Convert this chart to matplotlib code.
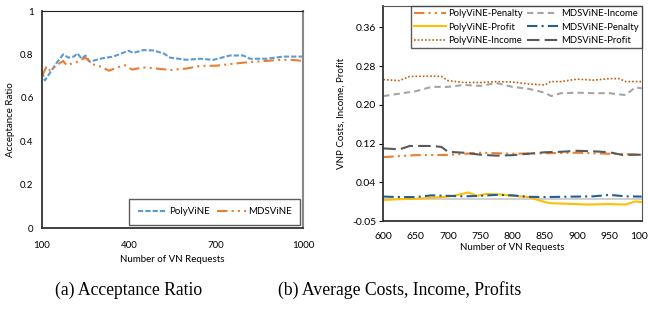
import matplotlib.pyplot as plt

# (a) acceptance ratio
poly_x = [100, 110, 130, 150, 173, 191, 210, 222, 237, 250, 265, 300, 346, 398,
          415, 449, 484, 519, 542, 599, 645, 691, 748, 794, 817, 875, 932, 1000]
poly_y = [0.72, 0.68, 0.72, 0.76, 0.80, 0.785, 0.79, 0.805, 0.78, 0.795, 0.766, 0.78,
          0.79, 0.817, 0.807, 0.82, 0.818, 0.805, 0.785, 0.775, 0.78, 0.775, 0.795,
          0.795, 0.78, 0.78, 0.79, 0.79]
mds_x = [100, 116, 128, 150, 173, 185, 220, 250, 273, 300, 331, 360, 387, 410, 449,
         495, 541, 599, 645, 702, 759, 817, 875, 920, 960, 1000]
mds_y = [0.70, 0.745, 0.725, 0.75, 0.77, 0.75, 0.765, 0.785, 0.755, 0.745, 0.725,
         0.74, 0.75, 0.73, 0.74, 0.735, 0.728, 0.735, 0.747, 0.748, 0.757, 0.765,
         0.77, 0.775, 0.775, 0.77]

# (b) costs, income, profit
x25 = [600, 625, 650, 675, 700, 725, 750, 775, 800, 825, 850, 875, 900, 925, 950, 975, 1000]
poly_income_x = [600, 625, 641, 675, 690, 700, 725, 750, 775, 800, 825, 850, 859,
                 875, 900, 925, 950, 965, 975, 1000]
poly_income = [0.247, 0.245, 0.2536, 0.254, 0.2536, 0.245, 0.241, 0.241, 0.243, 0.242,
               0.238, 0.236, 0.243, 0.243, 0.248, 0.246, 0.249, 0.249, 0.243, 0.243]
mds_income_x = [600, 625, 650, 675, 700, 725, 750, 775, 800, 825, 850, 860, 875,
                900, 925, 950, 975, 990, 1000]
mds_income = [0.213, 0.218, 0.223, 0.232, 0.232, 0.236, 0.234, 0.240, 0.232, 0.228,
              0.220, 0.213, 0.219, 0.220, 0.219, 0.219, 0.215, 0.231, 0.229]
mds_profit_x = [600, 625, 641, 675, 690, 700, 725, 750, 775, 800, 825, 850, 875,
                900, 925, 950, 970, 1000]
mds_profit = [0.105, 0.103, 0.110, 0.110, 0.108, 0.098, 0.096, 0.092, 0.090, 0.091,
              0.094, 0.097, 0.098, 0.100, 0.099, 0.097, 0.0915, 0.092]
poly_penalty_x = [600, 625, 650, 700, 750, 800, 850, 900, 950, 1000]
poly_penalty = [0.087, 0.089, 0.091, 0.0915, 0.096, 0.094, 0.095, 0.096, 0.094, 0.092]
mds_penalty = [0.0055, 0.0045, 0.0045, 0.008, 0.007, 0.006, 0.007, 0.009, 0.008,
               0.005, 0.0045, 0.005, 0.0055, 0.006, 0.009, 0.006, 0.0055]
poly_profit_x = [600, 625, 650, 675, 700, 715, 732, 745, 760, 785, 800, 825, 840,
                 857, 875, 900, 915, 950, 975, 990, 1000]
poly_profit = [-0.0015, 0.0, 0.001, 0.003, 0.0055, 0.009, 0.014, 0.007, 0.011, 0.0095,
               0.007, 0.0045, -0.002, -0.008, -0.009, -0.010, -0.011, -0.010, -0.011,
               -0.0045, -0.006]

yticks_b = [-0.045, 0.035, 0.115, 0.195, 0.275, 0.355]
ylabels_b = ['-0.05', '0.04', '0.12', '0.20', '0.28', '0.36']

plt.rcParams['font.family'] = ['Lato', 'DejaVu Sans']
fig = plt.figure(figsize=(6.48, 3.10), dpi=100)

# ---- left panel
ax1 = fig.add_axes([0.0648, 0.2645, 0.4028, 0.70])
ax1.plot(poly_x, poly_y, color='#5B9BD5', lw=1.5, dashes=(2.5, 1), label='PolyViNE')
ax1.plot(mds_x, mds_y, color='#ED7D31', lw=1.5, dashes=(5, 2, 1, 2, 1, 2), label='MDSViNE')
ax1.set_xlim(100, 1000)
ax1.set_ylim(0, 1)
ax1.set_xticks([100, 400, 700, 1000])
ax1.set_yticks([0, 0.2, 0.4, 0.6, 0.8, 1])
ax1.set_yticklabels(['0', '0.2', '0.4', '0.6', '0.8', '1'])
ax1.tick_params(axis='x', length=0, labelsize=7, pad=9)
ax1.tick_params(axis='y', length=0, labelsize=7, pad=6)
ax1.set_xlabel('Number of VN Requests', fontsize=7, labelpad=4)
ax1.set_ylabel('Acceptance Ratio', fontsize=7, labelpad=4)
for s in ['left', 'bottom']:
    ax1.spines[s].set_color('#333333')
    ax1.spines[s].set_linewidth(1.3)
ax1.spines['top'].set_color('#222222')
ax1.spines['top'].set_linewidth(0.8)
ax1.spines['right'].set_color('#888888')
ax1.spines['right'].set_linewidth(1.5)
leg1 = ax1.legend(loc='lower right', ncol=2, fontsize=7, frameon=True, fancybox=False,
                  handlelength=3.0, columnspacing=0.8, borderaxespad=0.3,
                  borderpad=0.9, handletextpad=0.15)
leg1.get_frame().set_edgecolor('#333333')
leg1.get_frame().set_linewidth(1.0)

# ---- right panel
ax2 = fig.add_axes([0.5915, 0.287, 0.3988, 0.6936])
ax2.axhline(0, color='#C8C8C8', lw=1.2, zorder=1)
h_pp, = ax2.plot(poly_penalty_x, poly_penalty, color='#ED7D31', lw=1.5,
                 dashes=(5, 2, 1, 2, 1, 2), label='PolyViNE-Penalty')
h_pf, = ax2.plot(poly_profit_x, poly_profit, color='#FFC000', lw=1.5, label='PolyViNE-Profit')
h_pi, = ax2.plot(poly_income_x, poly_income, color='#C55A11', lw=1.2, dashes=(1, 1.2),
                 label='PolyViNE-Income')
h_mi, = ax2.plot(mds_income_x, mds_income, color='#A5A5A5', lw=1.5, dashes=(3, 2),
                 label='MDSViNE-Income')
h_mp, = ax2.plot(x25, mds_penalty, color='#255E91', lw=1.5, dashes=(5, 2, 1, 2),
                 label='MDSViNE-Penalty')
h_mf, = ax2.plot(mds_profit_x, mds_profit, color='#595959', lw=1.5, dashes=(6, 2.5),
                 label='MDSViNE-Profit')
ax2.set_xlim(600, 1000)
ax2.set_ylim(-0.045, 0.399)
ax2.set_xticks(range(600, 1001, 50))
ax2.set_yticks(yticks_b)
ax2.set_yticklabels(ylabels_b)
ax2.tick_params(axis='x', length=0, labelsize=7.5, pad=8)
ax2.tick_params(axis='y', length=3, width=0.8, labelsize=7.5, pad=2)
ax2.set_xlabel('Number of VN Requests', fontsize=7, labelpad=1)
ax2.set_ylabel('VNP Costs, Income, Profit', fontsize=7, labelpad=5)
for s in ['left', 'bottom']:
    ax2.spines[s].set_color('#333333')
    ax2.spines[s].set_linewidth(1.3)
for s in ['top', 'right']:
    ax2.spines[s].set_color('#555555')
    ax2.spines[s].set_linewidth(0.8)
leg2 = ax2.legend(handles=[h_pp, h_pf, h_pi, h_mi, h_mp, h_mf], loc='upper right',
                  ncol=2, fontsize=6.8, frameon=True, fancybox=False, handlelength=3.3,
                  columnspacing=0.4, labelspacing=0.45, borderaxespad=0.0,
                  handletextpad=0.3, borderpad=0.35)
leg2.get_frame().set_edgecolor('#333333')
leg2.get_frame().set_linewidth(1.0)

fig.text(0.198, 0.065, '(a) Acceptance Ratio', fontsize=12.7,
         family='Liberation Serif', ha='center', va='center')
fig.text(0.429, 0.065, '(b) Average Costs, Income, Profits', fontsize=12.7,
         family='Liberation Serif', ha='left', va='center')

fig.savefig('out.png', dpi=100)
